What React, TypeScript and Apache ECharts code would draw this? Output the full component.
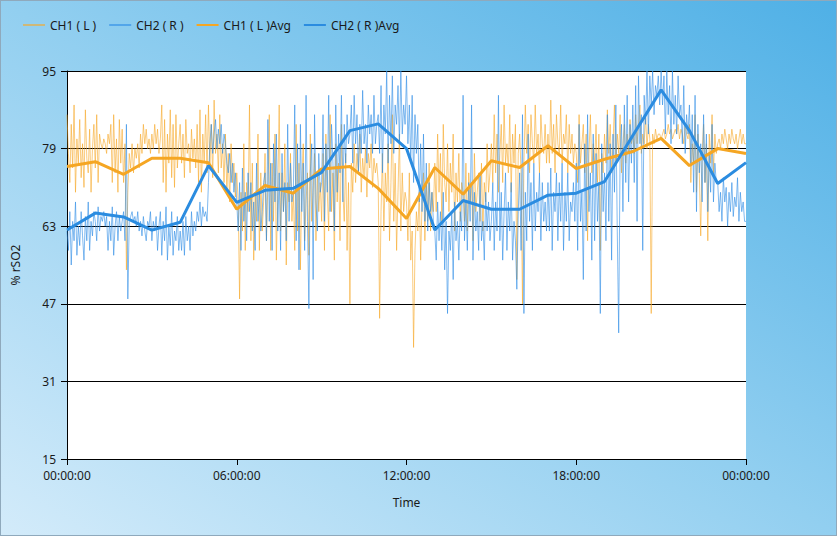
import React, { useEffect, useRef } from "react";
import * as echarts from "echarts";

const seriesNames = ["CH1 ( L )", "CH2 ( R )", "CH1 ( L )Avg", "CH2 ( R )Avg"];
const xTickLabels = ["00:00:00", "06:00:00", "12:00:00", "18:00:00", "00:00:00"];
const yMin = 15;
const yMax = 95;
const yInterval = 16;
const xMaxHours = 24;
const xIntervalHours = 6;
const rawStepHours = 0.05;
const avgStepHours = 1;

// CH1 ( L ) raw samples, 3-minute steps (20 per hour)
const ch1Raw = [
  86, 78, 72, 84, 75, 88, 70, 81, 76, 85, 73, 80, 71, 87, 77, 74, 83, 70, 79, 84,
  75, 86, 72, 82, 80, 79, 81, 80, 78, 82, 80, 84, 72, 86, 74, 81, 70, 85, 76, 83,
  72, 80, 54, 70, 78, 75, 80, 74, 79, 77, 80, 75, 82, 78, 84, 80, 83, 79, 81, 78,
  82, 79, 84, 80, 83, 78, 81, 88, 72, 85, 70, 82, 76, 87, 73, 84, 71, 86, 75, 80,
  84, 76, 82, 73, 85, 78, 80, 74, 83, 77, 81, 75, 84, 72, 87, 70, 82, 76, 86, 74,
  88, 76, 84, 73, 89, 78, 82, 74, 86, 75, 80, 72, 82, 70, 78, 68, 80, 72, 76, 69,
  74, 68, 48, 70, 62, 80, 58, 72, 66, 88, 60, 76, 56, 70, 64, 82, 58, 74, 62, 68,
  78, 60, 72, 86, 58, 76, 64, 82, 56, 70, 88, 62, 74, 66, 80, 55, 72, 68, 78, 64,
  70, 58, 84, 62, 76, 54, 72, 80, 60, 68, 74, 57, 82, 64, 70, 78, 60, 74, 66, 72,
  64, 78, 58, 82, 70, 62, 86, 66, 74, 56, 80, 68, 76, 60, 84, 70, 64, 78, 58, 72,
  47, 76, 70, 80, 72, 78, 74, 82, 70, 77, 73, 79, 69, 78, 75, 80, 71, 77, 74, 76,
  72, 44, 66, 78, 62, 74, 68, 80, 60, 72, 86, 64, 76, 58, 70, 82, 62, 74, 66, 70,
  68, 60, 74, 56, 62, 38, 58, 66, 62, 70, 56, 68, 74, 60, 72, 64, 76, 62, 70, 66,
  76, 66, 82, 70, 78, 64, 84, 72, 68, 80, 66, 76, 70, 82, 62, 74, 68, 78, 64, 72,
  70, 64, 76, 62, 74, 68, 72, 60, 78, 66, 70, 74, 64, 76, 62, 72, 68, 80, 70, 74,
  80, 72, 86, 74, 82, 70, 78, 84, 72, 88, 76, 80, 74, 86, 70, 82, 76, 84, 52, 78,
  82, 74, 47, 76, 88, 78, 84, 74, 86, 80, 76, 88, 78, 82, 74, 86, 80, 78, 84, 76,
  82, 76, 89, 78, 84, 74, 86, 80, 78, 88, 76, 82, 80, 86, 74, 84, 78, 82, 76, 80,
  78, 72, 86, 76, 80, 84, 74, 82, 60, 78, 86, 74, 80, 76, 84, 72, 82, 58, 78, 74,
  82, 76, 87, 78, 84, 74, 80, 88, 76, 82, 78, 86, 74, 80, 84, 76, 82, 78, 85, 80,
  82, 78, 86, 80, 84, 88, 78, 82, 80, 86, 79, 84, 81, 45, 82, 80, 83, 81, 82, 82,
  81, 82, 83, 81, 82, 84, 82, 83, 81, 82, 83, 82, 84, 81, 83, 82, 80, 84, 82, 81,
  84, 72, 80, 76, 86, 70, 82, 74, 61, 78, 84, 72, 80, 60, 82, 76, 86, 74, 82, 78,
  80, 81, 79, 82, 80, 83, 81, 79, 82, 80, 83, 81, 80, 82, 79, 81, 83, 80, 82, 80,
  80,
];

// CH2 ( R ) raw samples, 3-minute steps (20 per hour)
const ch2Raw = [
  62, 58, 66, 55, 64, 60, 68, 57, 63, 59, 66, 61, 56, 65, 60, 68, 58, 64, 61, 66,
  64, 60, 67, 62, 65, 64, 66, 63, 65, 58, 64, 60, 67, 57, 63, 66, 60, 65, 62, 64,
  66, 60, 84, 48, 64, 65, 66, 64, 65, 63, 66, 62, 64, 61, 65, 62, 60, 64, 63, 66,
  60, 64, 62, 65, 58, 63, 66, 57, 64, 60, 67, 56, 63, 59, 66, 57, 62, 60, 65, 58,
  62, 58, 64, 57, 65, 60, 63, 58, 66, 61, 64, 62, 66, 64, 68, 63, 67, 65, 66, 64,
  72, 80, 84, 78, 82, 85, 79, 83, 80, 84, 78, 82, 80, 76, 74, 78, 72, 76, 70, 74,
  68, 62, 72, 58, 75, 64, 70, 60, 74, 66, 72, 62, 68, 58, 76, 64, 70, 62, 66, 72,
  74, 60, 85, 64, 76, 58, 80, 68, 82, 62, 74, 58, 78, 66, 72, 60, 84, 64, 76, 68,
  70, 88, 60, 80, 54, 84, 66, 76, 58, 90, 64, 46, 74, 80, 52, 86, 68, 62, 78, 70,
  72, 86, 64, 80, 70, 90, 66, 84, 76, 62, 88, 70, 82, 74, 90, 68, 84, 76, 86, 80,
  82, 88, 76, 90, 80, 86, 74, 84, 78, 91, 80, 84, 76, 88, 82, 86, 78, 90, 80, 84,
  86, 78, 92, 74, 88, 82, 95, 76, 90, 80, 94, 78, 88, 84, 92, 80, 95, 82, 88, 84,
  94, 80, 88, 76, 90, 72, 86, 78, 84, 68, 80, 66, 82, 64, 76, 62, 72, 66, 70, 64,
  62, 56, 68, 60, 66, 58, 70, 54, 64, 45, 62, 58, 66, 52, 68, 60, 64, 56, 66, 62,
  90, 60, 68, 58, 72, 64, 88, 56, 70, 62, 66, 58, 74, 60, 64, 56, 70, 62, 68, 60,
  64, 72, 58, 68, 62, 90, 60, 70, 56, 66, 74, 58, 68, 62, 72, 56, 64, 60, 50, 66,
  74, 58, 86, 45, 70, 60, 82, 64, 72, 58, 76, 62, 70, 66, 74, 60, 72, 64, 68, 62,
  72, 62, 75, 58, 70, 66, 74, 60, 72, 64, 76, 58, 70, 64, 74, 60, 68, 66, 72, 64,
  76, 58, 84, 64, 70, 52, 80, 62, 86, 66, 74, 56, 82, 60, 78, 64, 72, 45, 80, 66,
  74, 60, 86, 64, 80, 56, 82, 70, 88, 62, 41, 78, 84, 66, 88, 72, 90, 68, 84, 76,
  88, 72, 92, 64, 94, 80, 86, 58, 90, 84, 95, 82, 94, 88, 95, 86, 92, 90, 94, 88,
  95, 88, 94, 82, 95, 86, 92, 80, 95, 84, 90, 82, 94, 86, 88, 80, 92, 78, 86, 82,
  88, 76, 86, 70, 90, 66, 84, 74, 80, 68, 86, 72, 82, 66, 78, 70, 84, 68, 76, 72,
  72, 66, 70, 64, 73, 68, 71, 63, 70, 66, 72, 65, 69, 67, 73, 64, 70, 66, 68, 64,
  64,
];

// Hourly averages
const ch1Avg = [75.3, 76.3, 73.7, 77.0, 77.0, 76.1, 66.5, 71.4, 69.8, 74.8, 75.3, 70.8, 64.6, 75.1, 69.6, 76.5, 75.1, 79.6, 74.9, 76.8, 78.4, 81.1, 75.5, 79.0, 78.0];
const ch2Avg = [62.2, 65.7, 64.9, 62.2, 63.8, 75.5, 67.9, 70.4, 70.8, 74.1, 82.7, 84.1, 79.0, 62.2, 68.3, 66.5, 66.5, 69.4, 69.8, 72.2, 81.7, 91.1, 82.7, 71.8, 76.1];

const toPairs = (vals: number[], step: number) => vals.map((v, i) => [+(i * step).toFixed(3), v]);

const FONT = "'Noto Sans', 'Open Sans', sans-serif";

export default function App() {
  const ref = useRef<HTMLDivElement>(null);
  useEffect(() => {
    if (!ref.current) return;
    const chart = echarts.init(ref.current, undefined, { renderer: "svg" });
    chart.setOption({
      animation: false,
      backgroundColor: {
        type: "linear",
        x: 0,
        y: 1,
        x2: 1,
        y2: 0,
        colorStops: [
          { offset: 0, color: "#d3ebfa" },
          { offset: 0.5, color: "#92cff0" },
          { offset: 1, color: "#4fb0e6" },
        ],
      },
      textStyle: { fontFamily: FONT },
      legend: {
        data: seriesNames,
        left: 21,
        top: 18,
        padding: 0,
        itemWidth: 22,
        itemHeight: 1,
        itemGap: 12,
        textStyle: { fontSize: 12, color: "#1a1a1a", fontFamily: FONT },
      },
      grid: {
        left: 64,
        top: 70,
        right: 90,
        bottom: 76,
        show: true,
        backgroundColor: "#ffffff",
        borderWidth: 0,
      },
      xAxis: {
        type: "value",
        min: 0,
        max: xMaxHours,
        interval: xIntervalHours,
        name: "Time",
        nameLocation: "middle",
        nameGap: 37,
        nameTextStyle: { fontSize: 12, color: "#1a1a1a" },
        axisLine: { show: true, lineStyle: { color: "#000", width: 1 } },
        axisTick: { show: true, length: 6, lineStyle: { color: "#000" } },
        axisLabel: {
          fontSize: 12,
          color: "#1a1a1a",
          margin: 10,
          formatter: (v: number) => xTickLabels[Math.round(v / xIntervalHours)] ?? "",
        },
        splitLine: { show: false },
      },
      yAxis: {
        type: "value",
        min: yMin,
        max: yMax,
        interval: yInterval,
        name: "% rSO2",
        nameLocation: "middle",
        nameGap: 46,
        nameTextStyle: { fontSize: 12, color: "#1a1a1a" },
        axisLine: { show: true, lineStyle: { color: "#000", width: 1 } },
        axisTick: { show: true, length: 6, lineStyle: { color: "#000" } },
        axisLabel: { fontSize: 12, color: "#1a1a1a", margin: 11 },
        splitLine: { show: true, lineStyle: { color: "#000", width: 1 } },
      },
      series: [
        {
          name: seriesNames[0],
          type: "line",
          data: toPairs(ch1Raw, rawStepHours),
          symbol: "none",
          lineStyle: { color: "rgba(247,169,40,0.6)", width: 1 },
          itemStyle: { color: "rgba(247,169,40,0.6)" },
        },
        {
          name: seriesNames[1],
          type: "line",
          data: toPairs(ch2Raw, rawStepHours),
          symbol: "none",
          lineStyle: { color: "rgba(45,140,230,0.6)", width: 1 },
          itemStyle: { color: "rgba(45,140,230,0.6)" },
        },
        {
          name: seriesNames[2],
          type: "line",
          data: toPairs(ch1Avg, avgStepHours),
          symbol: "none",
          lineStyle: { color: "#f5a623", width: 3 },
          itemStyle: { color: "#f5a623" },
        },
        {
          name: seriesNames[3],
          type: "line",
          data: toPairs(ch2Avg, avgStepHours),
          symbol: "none",
          lineStyle: { color: "#2b8ce0", width: 3 },
          itemStyle: { color: "#2b8ce0" },
        },
      ],
    });
    return () => chart.dispose();
  }, []);
  return (
    <div
      style={{
        position: "fixed",
        left: 0,
        top: 0,
        width: 837,
        height: 536,
        boxSizing: "border-box",
        border: "1px solid #8fa9bc",
      }}
    >
      <div ref={ref} style={{ width: 835, height: 534 }} />
    </div>
  );
}
